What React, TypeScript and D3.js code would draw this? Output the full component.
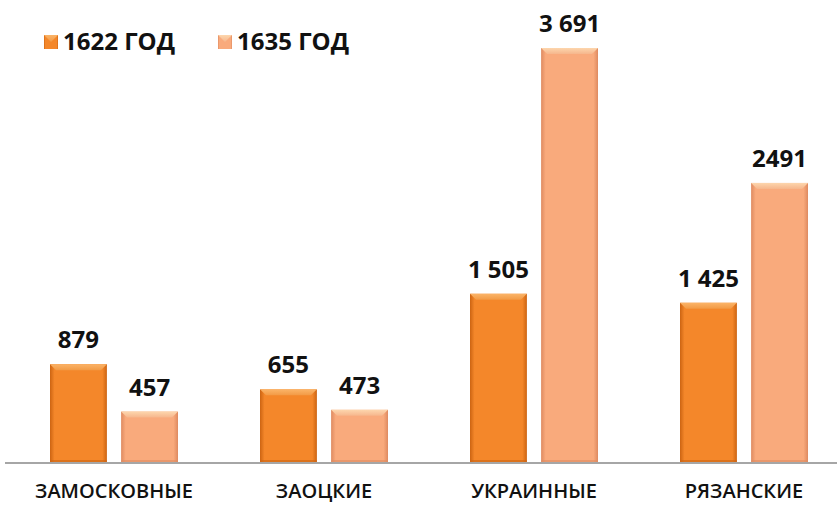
import React from 'react';
import * as d3 from 'd3';

const categories = ['ЗАМОСКОВНЫЕ', 'ЗАОЦКИЕ', 'УКРАИННЫЕ', 'РЯЗАНСКИЕ'];
const series = ['1622 ГОД', '1635 ГОД'];
const values1622 = [879, 655, 1505, 1425];
const values1635 = [457, 473, 3691, 2491];
const valueLabels1622 = ['879', '655', '1 505', '1 425'];
const valueLabels1635 = ['457', '473', '3 691', '2491'];

const W = 837;
const H = 505;
const baseY = 463;

const palette = [
  { edge: '#cc6412', mid: '#f4872a', top: '#fbb468', topEdge: '#f29a45' },
  { edge: '#de8a60', mid: '#f9aa7c', top: '#fdd6ad', topEdge: '#f6b68c' },
];

export default function App() {
  const x0 = d3.scaleBand().domain(categories).range([9, 849]);
  const x1 = d3.scaleBand().domain(series).range([41, 169]).paddingInner(0.2);
  const y = d3.scaleLinear().domain([0, 3691]).range([baseY, 48]);

  const data = [values1622, values1635];
  const labels = [valueLabels1622, valueLabels1635];
  const bevel = 6;

  return (
    <svg width={W} height={H} style={{ position: 'absolute', left: 0, top: 0, background: '#fff' }}>
      <defs>
        {palette.map((p, i) => (
          <React.Fragment key={i}>
            <linearGradient id={`body${i}`} x1="0" x2="1" y1="0" y2="0">
              <stop offset="0" stopColor={p.edge} />
              <stop offset="0.08" stopColor={p.mid} />
              <stop offset="0.92" stopColor={p.mid} />
              <stop offset="1" stopColor={p.edge} />
            </linearGradient>
            <linearGradient id={`top${i}`} x1="0" x2="0" y1="0" y2="1">
              <stop offset="0" stopColor={p.top} />
              <stop offset="1" stopColor={p.topEdge} />
            </linearGradient>
          </React.Fragment>
        ))}
      </defs>

      {categories.map((c, ci) => (
        <g key={c} transform={`translate(${x0(c)},0)`}>
          {series.map((s, si) => {
            const bx = x1(s)!;
            const bw = x1.bandwidth();
            const v = data[si][ci];
            const top = y(v);
            const p = palette[si];
            return (
              <g key={s}>
                <rect x={bx} y={top} width={bw} height={baseY - top} fill={`url(#body${si})`} />
                <path
                  d={`M${bx},${top}L${bx + bw},${top}L${bx + bw - bevel},${top + bevel}L${bx + bevel},${top + bevel}Z`}
                  fill={`url(#top${si})`}
                />
                <rect x={bx} y={baseY - 3} width={bw} height={3} fill={p.edge} opacity={0.6} />
                <text
                  x={bx + bw / 2}
                  y={top - 16}
                  textAnchor="middle"
                  fontFamily="'Open Sans', sans-serif"
                  fontWeight={700}
                  fontSize={24}
                  fill="#111"
                >
                  {labels[si][ci]}
                </text>
              </g>
            );
          })}
          <text
            x={x0.bandwidth() / 2}
            y={498}
            textAnchor="middle"
            fontFamily="'Open Sans', sans-serif"
            fontWeight={600}
            fontSize={20}
            fill="#111"
          >
            {c}
          </text>
        </g>
      ))}

      <line x1={5} x2={837} y1={baseY} y2={baseY} stroke="#a6a6a6" strokeWidth={2} />

      {series.map((s, si) => {
        const lx = [44, 218][si];
        return (
          <g key={s}>
            <rect x={lx} y={35} width={14} height={14} fill={`url(#body${si})`} />
            <path d={`M${lx},35L${lx + 14},35L${lx + 7},42Z`} fill={`url(#top${si})`} />
            <text
              x={lx + 19}
              y={50}
              fontFamily="'Open Sans', sans-serif"
              fontWeight={700}
              fontSize={24}
              fill="#111"
            >
              {s}
            </text>
          </g>
        );
      })}
    </svg>
  );
}
